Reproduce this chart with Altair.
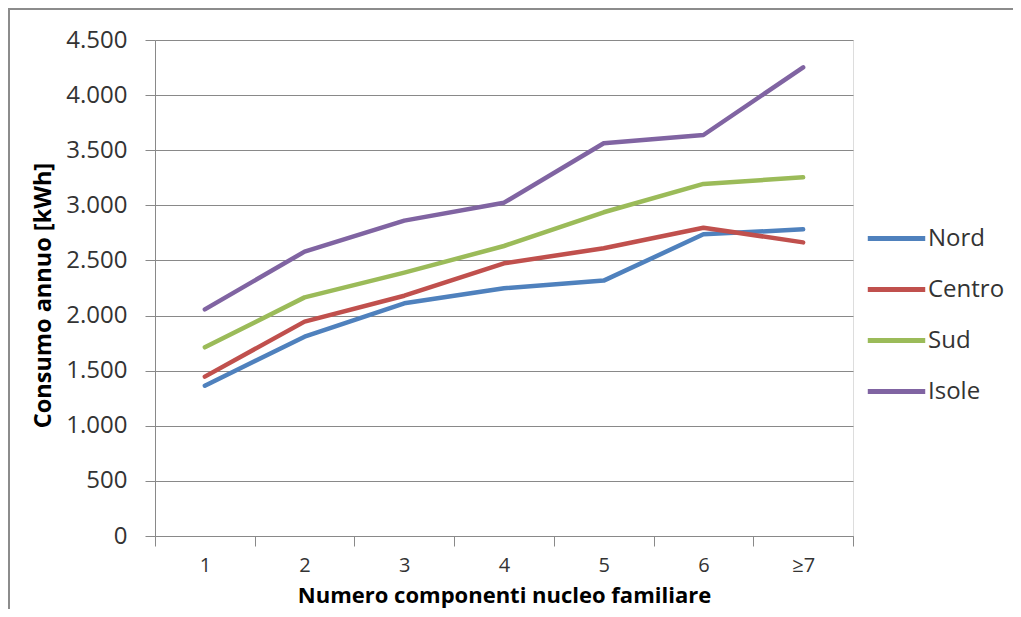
import altair as alt
import pandas as pd

categories = ["1", "2", "3", "4", "5", "6", "≥7"]
series_names = ["Nord", "Centro", "Sud", "Isole"]
series_colors = ["#4F81BD", "#C0504D", "#9BBB59", "#8064A2"]
nord = [1364, 1808, 2111, 2247, 2317, 2737, 2782]
centro = [1446, 1945, 2180, 2474, 2610, 2797, 2664]
sud = [1712, 2165, 2389, 2631, 2937, 3194, 3254]
isole = [2056, 2580, 2861, 3024, 3563, 3638, 4252]
y_ticks = [0, 500, 1000, 1500, 2000, 2500, 3000, 3500, 4000, 4500]

rows = []
for name, vals in zip(series_names, [nord, centro, sud, isole]):
    for c, v in zip(categories, vals):
        rows.append({"n": c, "serie": name, "v": v})
df = pd.DataFrame(rows)

FONT = "Open Sans"
GRAY = "#898989"
TXT = "#333333"

lines = alt.Chart(df).mark_line(strokeWidth=4.5, strokeCap="round", strokeJoin="round").encode(
    x=alt.X("n:O", sort=categories, bandPosition=0.5,
            scale=alt.Scale(type="band", paddingInner=0, paddingOuter=0),
            axis=alt.Axis(title="Numero componenti nucleo familiare", tickBand="extent",
                          labelAngle=0, grid=False, domainColor=GRAY, tickColor=GRAY,
                          tickSize=10, labelPadding=9, labelFontSize=20, labelColor=TXT,
                          labelFont=FONT, titleFont=FONT, titleFontSize=22,
                          titleFontWeight="bold", titleColor="#000000",
                          titleY=66, titleBaseline="alphabetic")),
    y=alt.Y("v:Q", scale=alt.Scale(domain=[0, 4500], nice=False),
            axis=alt.Axis(title="Consumo annuo [kWh]", values=y_ticks,
                          labelExpr="replace(format(datum.value, ','), ',', '.')",
                          grid=True, gridColor=GRAY, gridOpacity=1, domainColor=GRAY,
                          tickColor=GRAY, tickSize=10, labelPadding=18, labelFontSize=24,
                          labelColor=TXT, labelFont=FONT, titleFont=FONT, titleFontSize=23.5,
                          titleFontWeight="bold", titleColor="#000000",
                          titleX=-100, titleY=255)),
    color=alt.Color("serie:N", sort=series_names,
                    scale=alt.Scale(domain=series_names, range=series_colors),
                    legend=alt.Legend(title=None, orient="none", legendX=710, legendY=167,
                                      symbolType="stroke", symbolSize=3300,
                                      symbolStrokeWidth=5, labelFontSize=24,
                                      labelFont=FONT, labelColor=TXT, labelOffset=0,
                                      rowPadding=7)),
)

frame_df = pd.DataFrame({"a": [0]})
frame_left = alt.Chart(frame_df).mark_rule(stroke="#8c8c8c", strokeWidth=2).encode(
    x=alt.value(-146), y=alt.value(-31), y2=alt.value(600))
frame_top = alt.Chart(frame_df).mark_rule(stroke="#8c8c8c", strokeWidth=2).encode(
    x=alt.value(-147), x2=alt.value(900), y=alt.value(-31))

chart = alt.layer(frame_left, frame_top, lines).properties(
    width=698, height=496,
    autosize=alt.AutoSizeParams(type="none"),
    padding={"left": 147, "top": 32, "right": 160, "bottom": 73},
).configure_view(stroke=None).configure(background="white")

chart.save("out.html", embed_options={"renderer": "svg", "actions": False})
